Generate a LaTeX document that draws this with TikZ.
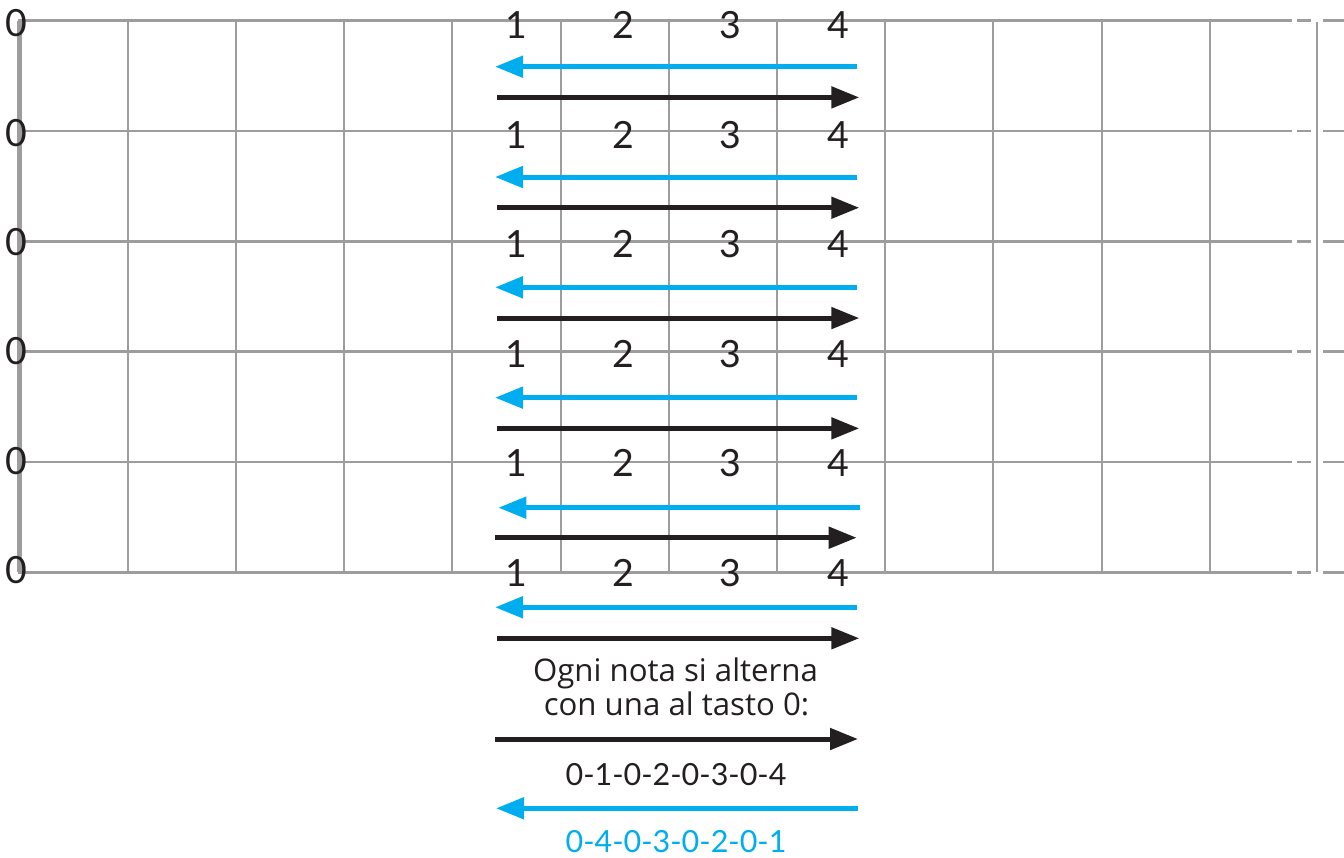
\documentclass[tikz,border=0pt]{standalone}
\usepackage{fontspec}
\setmainfont{Lato}
\newfontfamily\notefont{Open Sans}
\usetikzlibrary{arrows.meta}
\definecolor{gridgray}{HTML}{9D9D9F}
\definecolor{cyanb}{HTML}{00AEEF}
\definecolor{ink}{HTML}{231F20}
\begin{document}
\begin{tikzpicture}[x=1pt,y=-1pt,
  hline/.style={gridgray,line width=2.5pt},
  vline/.style={gridgray,line width=2pt},
  nutline/.style={gridgray,line width=5.5pt},
  fwd/.style={ink,line width=5pt,-{Triangle[length=28pt,width=21pt]}},
  bwd/.style={cyanb,line width=5pt,-{Triangle[length=28pt,width=21pt]}},
  num/.style={ink,font=\fontsize{37.5}{40}\selectfont,inner sep=0pt},
  note/.style={ink,font=\notefont\fontsize{31.2}{34}\selectfont,inner sep=0pt,anchor=base},
  seq/.style={font=\fontsize{30.5}{34}\selectfont,inner sep=0pt,anchor=base}
]
\useasboundingbox (0,0) rectangle (1344,857);
% vertical fret lines
\foreach \k in {1,...,11}{
  \draw[vline] (19.5+108.2*\k,20.7) -- (19.5+108.2*\k,572.3);
}
% right vertical line
\coordinate (rtop) at (1316.7,21.5);
\coordinate (rbot) at (1316.7,572.3);
\draw[gridgray,line width=2.3pt] (rtop) -- (rbot);
% left thick line
\draw[nutline] (19.5,20.7) -- (19.5,572.3);
% horizontal string lines with dashed continuation
\foreach \i in {0,...,5}{
  \pgfmathsetmacro{\yy}{20.7+110.32*\i}
  \draw[hline] (18,\yy) -- (1291.7,\yy);
  \draw[hline] (1297,\yy) -- (1310.7,\yy);
  \draw[hline] (1323.3,\yy) -- (1344,\yy);
}
% zero labels
\foreach \i in {0,...,5}{
  \pgfmathsetmacro{\yy}{23.5+109.3*\i}
  \node[num] (z\i) at (16.5,\yy) {0};
}
% fret numbers
\foreach \i in {0,...,5}{
  \pgfmathsetmacro{\yy}{25+109.6*\i}
  \node[num] (n\i a) at (516.7,\yy) {1};
  \node[num] (n\i b) at (623.3,\yy) {2};
  \node[num] (n\i c) at (730,\yy) {3};
  \node[num] (n\i d) at (838.3,\yy) {4};
}
% arrows
\foreach \i in {0,1,2,3}{
  \pgfmathsetmacro{\yy}{20.7+110.32*\i}
  \coordinate (bs\i) at (857.3,\yy+46);
  \coordinate (be\i) at (495,\yy+46);
  \coordinate (fs\i) at (497.3,\yy+76.7);
  \coordinate (fe\i) at (859.3,\yy+76.7);
  \draw[bwd] (bs\i) -- (be\i);
  \draw[fwd] (fs\i) -- (fe\i);
}
\coordinate (bs4) at (860,507.7);
\coordinate (be4) at (498.3,507.7);
\coordinate (fs4) at (495,537.7);
\coordinate (fe4) at (856.7,537.7);
\draw[bwd] (bs4) -- (be4);
\draw[fwd] (fs4) -- (fe4);
\coordinate (bs5) at (857.3,607.3);
\coordinate (be5) at (495,607.3);
\coordinate (fs5) at (497.3,638.3);
\coordinate (fe5) at (859.3,638.3);
\draw[bwd] (bs5) -- (be5);
\draw[fwd] (fs5) -- (fe5);
% explanation
\node[note] (t1) at (675.5,681.7) {Ogni nota si alterna};
\node[note] (t2) at (676.5,715) {con una al tasto 0:};
\coordinate (lfs) at (495,739);
\coordinate (lfe) at (858,739);
\draw[fwd] (lfs) -- (lfe);
\node[seq,ink] (s1) at (676,785) {0-1-0-2-0-3-0-4};
\coordinate (lbs) at (858,808.3);
\coordinate (lbe) at (496,808.3);
\draw[bwd] (lbs) -- (lbe);
\node[seq,cyanb] (s2) at (676,852.5) {0-4-0-3-0-2-0-1};
\end{tikzpicture}
\end{document}
